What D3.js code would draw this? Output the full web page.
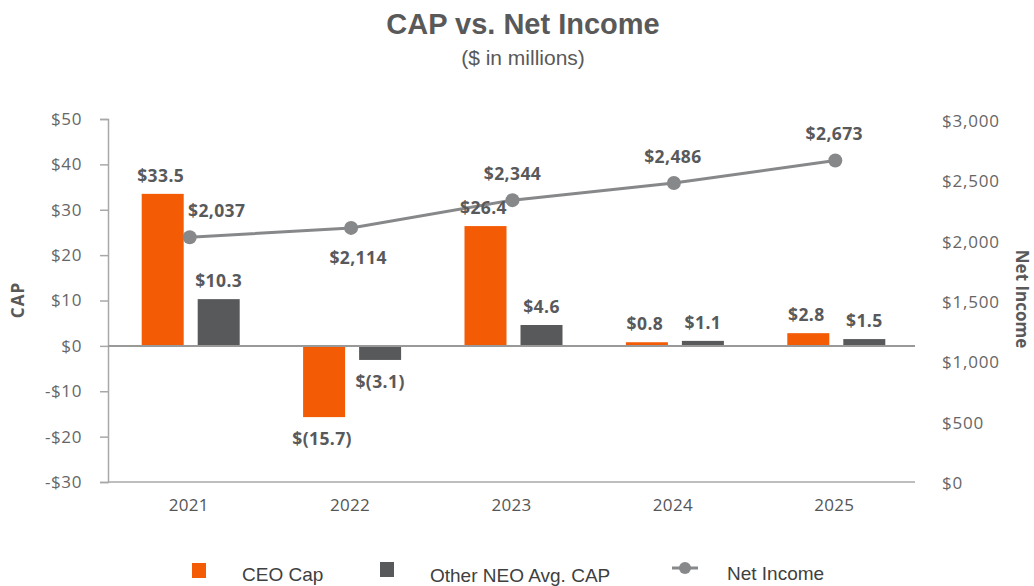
<!DOCTYPE html>
<html>
<head>
<meta charset="utf-8">
<script src="https://cdn.jsdelivr.net/npm/d3@7"></script>
<style>
  html, body { margin: 0; padding: 0; background: #fff; }
  svg { display: block; }
</style>
</head>
<body>
<svg id="chart" width="1034" height="586"></svg>
<script>
// Fiscal years and values ($ in millions)
const years = ["2021", "2022", "2023", "2024", "2025"];
const ceoCap = [33.5, -15.7, 26.4, 0.8, 2.8];
const neoAvgCap = [10.3, -3.1, 4.6, 1.1, 1.5];
const netIncome = [2037, 2114, 2344, 2486, 2673];
const capTicks = [50, 40, 30, 20, 10, 0, -10, -20, -30];
const incomeTicks = [3000, 2500, 2000, 1500, 1000, 500, 0];

const ORANGE = "#F35B04";
const DARK = "#58595B";
const LINE = "#87888A";
const AXIS = "#A8A8A8";
const LABEL = "#58595B";
const numFont = "'Open Sans', Lato, sans-serif";
const arial = "Arial, 'Liberation Sans', sans-serif";

const svg = d3.select("#chart");

const plot = { left: 108, right: 915, top: 119, bottom: 482 };

const x = d3.scaleBand().domain(years).range([plot.left, plot.right]).padding(0);
const series = ["ceo", "neo"];
const x1 = d3.scaleBand().domain(series).range([-49, 49]).paddingInner(0.25);
const yCap = d3.scaleLinear().domain([-30, 50]).range([plot.bottom, plot.top]);
const yInc = d3.scaleLinear().domain([0, 3000]).range([plot.bottom + 1, plot.top + 2]);

const fmtCap = v => v < 0 ? `$(${Math.abs(v).toFixed(1)})` : `$${v.toFixed(1)}`;
const fmtInc = v => "$" + d3.format(",")(v);

// Titles
svg.append("text").attr("x", 523).attr("y", 34).attr("text-anchor", "middle")
  .attr("font-family", arial).attr("font-weight", "bold")
  .attr("font-size", 29).attr("fill", "#595959").text("CAP vs. Net Income");
svg.append("text").attr("x", 523).attr("y", 65).attr("text-anchor", "middle")
  .attr("font-family", arial)
  .attr("font-size", 21).attr("fill", "#595959").text("($ in millions)");

// Left axis
const leftAxis = svg.append("g").attr("transform", `translate(${plot.left},0)`)
  .call(d3.axisLeft(yCap).tickValues(capTicks).tickSize(8).tickPadding(18)
    .tickFormat(v => v < 0 ? `-$${Math.abs(v)}` : `$${v}`));
leftAxis.select(".domain").attr("stroke", AXIS).attr("stroke-width", 1.5);
leftAxis.selectAll(".tick line").attr("stroke", AXIS).attr("stroke-width", 1.5);
leftAxis.selectAll(".tick text").attr("font-family", numFont).attr("font-size", 17)
  .attr("letter-spacing", 0.6).attr("fill", "#666");

// Right axis (labels only)
const rightAxis = svg.append("g").attr("transform", `translate(${plot.right},0)`)
  .call(d3.axisRight(yInc).tickValues(incomeTicks).tickSize(0).tickPadding(27)
    .tickFormat(fmtInc));
rightAxis.select(".domain").remove();
rightAxis.selectAll(".tick text").attr("font-family", numFont).attr("font-size", 17)
  .attr("letter-spacing", 0.8).attr("fill", "#666");

// Bottom axis line
svg.append("line").attr("x1", plot.left).attr("x2", plot.right)
  .attr("y1", yCap(-30)).attr("y2", yCap(-30)).attr("stroke", AXIS).attr("stroke-width", 1.5);

// Category labels
const xAxis = svg.append("g").attr("transform", `translate(0,${plot.bottom})`)
  .call(d3.axisBottom(x).tickSize(0).tickPadding(17));
xAxis.select(".domain").remove();
xAxis.selectAll(".tick text").attr("font-family", numFont).attr("font-size", 17)
  .attr("letter-spacing", 0.3).attr("fill", "#555");

// Axis titles
svg.append("text").attr("transform", "translate(24,300) rotate(-90)")
  .attr("text-anchor", "middle").attr("font-family", numFont).attr("font-weight", "bold")
  .attr("font-size", 17).attr("letter-spacing", 1).attr("fill", "#595959").text("CAP");
svg.append("text").attr("transform", "translate(1016,299) rotate(90)")
  .attr("text-anchor", "middle").attr("font-family", numFont).attr("font-weight", "bold")
  .attr("font-size", 17).attr("fill", "#595959").text("Net Income");

// Bars
const barData = years.flatMap((yr, i) => [
  { yr, key: "ceo", v: ceoCap[i], color: ORANGE },
  { yr, key: "neo", v: neoAvgCap[i], color: DARK }
]);
const cx = d => x(d.yr) + x.bandwidth() / 2 + 2;
svg.append("g").selectAll("rect").data(barData).join("rect")
  .attr("x", d => cx(d) + x1(d.key))
  .attr("width", x1.bandwidth())
  .attr("y", d => yCap(Math.max(0, d.v)))
  .attr("height", d => Math.abs(yCap(d.v) - yCap(0)))
  .attr("fill", d => d.color);

// Zero line drawn over the bars
svg.append("line").attr("x1", plot.left).attr("x2", plot.right)
  .attr("y1", yCap(0)).attr("y2", yCap(0)).attr("stroke", "#999").attr("stroke-width", 2);

// Net income line
const px = i => x(years[i]) + x.bandwidth() / 2 + 1;
const line = d3.line().x((d, i) => px(i)).y(d => yInc(d));
svg.append("path").datum(netIncome).attr("d", line).attr("fill", "none")
  .attr("stroke", LINE).attr("stroke-width", 3);
svg.append("g").selectAll("circle").data(netIncome).join("circle")
  .attr("cx", (d, i) => px(i)).attr("cy", d => yInc(d)).attr("r", 7).attr("fill", LINE);

// Bar value labels
svg.append("g").selectAll("text").data(barData).join("text")
  .attr("x", d => cx(d) + x1(d.key) + x1.bandwidth() / 2 - (d.key === "ceo" ? 2 : 0))
  .attr("y", d => d.v >= 0 ? yCap(d.v) - 12 : yCap(d.v) + 28)
  .attr("text-anchor", "middle").attr("font-family", numFont).attr("font-weight", "bold")
  .attr("font-size", 17.5).attr("letter-spacing", 0.4).attr("fill", LABEL).text(d => fmtCap(d.v));

// Net income labels: first to the upper right, second below, others above
const incLabelOffset = [[27, -20], [7, 36], [0, -20], [-1, -20], [-1, -20]];
svg.append("g").selectAll("text").data(netIncome).join("text")
  .attr("x", (d, i) => px(i) + incLabelOffset[i][0])
  .attr("y", (d, i) => yInc(d) + incLabelOffset[i][1])
  .attr("text-anchor", "middle").attr("font-family", numFont).attr("font-weight", "bold")
  .attr("font-size", 17.5).attr("letter-spacing", 0.4).attr("fill", LABEL).text(d => fmtInc(d));

// Legend
const lg = svg.append("g").attr("font-family", arial)
  .attr("font-size", 19).attr("fill", "#404040");
lg.append("rect").attr("x", 192).attr("y", 563).attr("width", 14).attr("height", 15).attr("fill", ORANGE);
lg.append("text").attr("x", 242).attr("y", 581).text("CEO Cap");
lg.append("rect").attr("x", 380).attr("y", 562).attr("width", 14).attr("height", 15).attr("fill", DARK);
lg.append("text").attr("x", 430).attr("y", 582).text("Other NEO Avg. CAP");
lg.append("line").attr("x1", 672).attr("x2", 698).attr("y1", 568).attr("y2", 568)
  .attr("stroke", LINE).attr("stroke-width", 3);
lg.append("circle").attr("cx", 685).attr("cy", 568).attr("r", 6).attr("fill", LINE);
lg.append("text").attr("x", 727).attr("y", 580).text("Net Income");
</script>
</body>
</html>
